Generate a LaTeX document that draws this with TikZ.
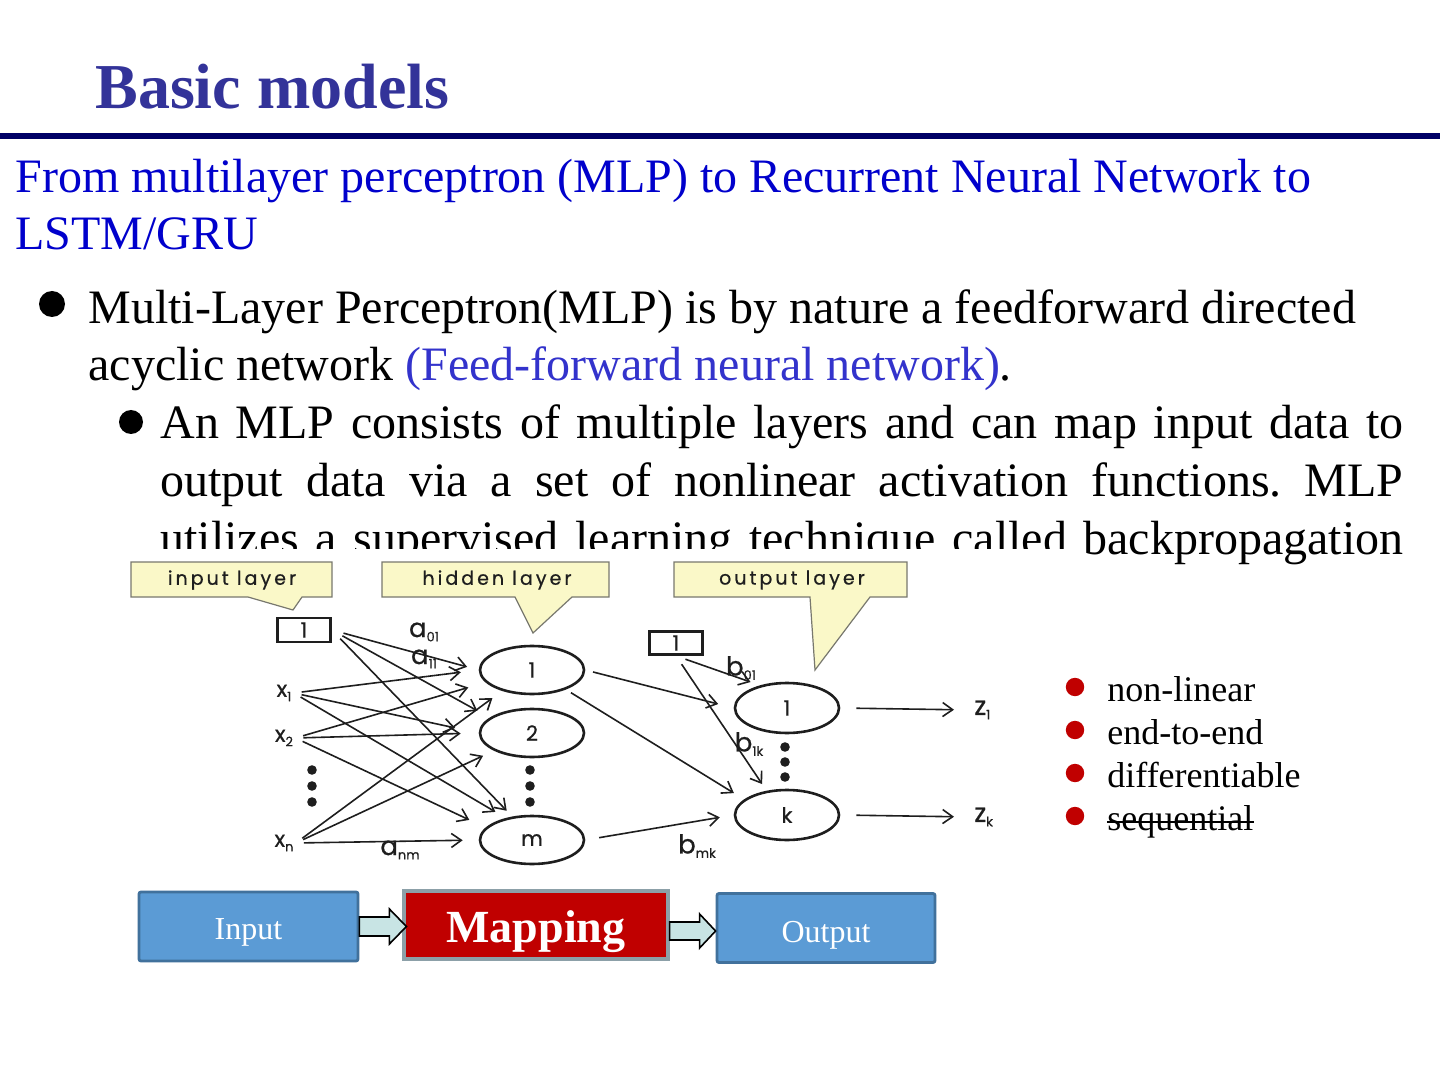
\documentclass[tikz,border=0pt]{standalone}
\usepackage{fontspec}
\setmainfont{Liberation Serif}
\newfontfamily\figfont[LetterSpace=16,FakeBold=0.6]{Poppins}
\newfontfamily\figfontn[FakeBold=0.6]{Poppins}
\usetikzlibrary{shapes.geometric,arrows.meta}
\definecolor{titleblue}{RGB}{51,51,153}
\definecolor{rulenavy}{RGB}{0,0,102}
\definecolor{subblue}{RGB}{0,0,204}
\definecolor{ffblue}{RGB}{51,51,204}
\definecolor{boxblue}{RGB}{91,155,213}
\definecolor{boxborder}{RGB}{65,113,156}
\definecolor{mapred}{RGB}{192,0,0}
\definecolor{mapborder}{RGB}{140,160,168}
\definecolor{arrowfill}{RGB}{200,228,228}
\definecolor{callfill}{RGB}{250,248,200}
\definecolor{callborder}{RGB}{120,120,110}
\definecolor{listred}{RGB}{192,0,0}
\definecolor{ink}{RGB}{30,30,30}
\newcommand\sbs[1]{\raisebox{-2.2pt}{\figfontn\fontsize{6.5}{7}\selectfont #1}}
\frenchspacing
\tikzset{
  txt/.style={anchor=base west, inner sep=0pt, font=\fontsize{24}{28}\selectfont},
  lst/.style={anchor=base west, inner sep=0pt, font=\fontsize{18}{20}\selectfont},
  calltxt/.style={inner sep=0pt, font=\figfont\fontsize{9.5}{10}\selectfont, text=ink},
  callout/.style={fill=callfill, draw=callborder, line width=0.6pt},
  lab/.style={inner sep=1pt, font=\figfontn\fontsize{11}{12}\selectfont, text=ink},
  wlab/.style={inner sep=1pt, font=\figfontn\fontsize{13}{14}\selectfont, text=ink},
  neuron/.style={ellipse, draw=ink, line width=1.3pt, minimum width=52pt, minimum height=24pt, inner sep=0pt, font=\figfontn\fontsize{10.5}{11}\selectfont, text=ink},
  biasbox/.style={rectangle, draw=ink, line width=1.4pt, minimum width=26.5pt, minimum height=12pt, inner sep=0pt, font=\figfontn\fontsize{10.5}{11}\selectfont, text=ink},
  arr/.style={-{Straight Barb[length=5pt,width=7pt]}, line width=0.8pt, draw=ink},
  dot/.style={fill=ink},
  flowbox/.style={rectangle, fill=boxblue, draw=boxborder, line width=1.4pt, rounded corners=1pt, minimum width=109pt, minimum height=34.5pt, inner sep=0pt, text=white, text depth=0pt, font=\fontsize{16}{18}\selectfont},
  blockarr/.style={fill=arrowfill, draw=black, line width=0.8pt, line join=miter},
}
\begin{document}
\begin{tikzpicture}[x=0.5pt,y=-0.5pt]
\useasboundingbox[fill=white] (0,0) rectangle (1440,1080);
% title
\node[anchor=base west, inner sep=0pt, font=\fontsize{32}{38}\selectfont\bfseries, text=titleblue] (title) at (95,109) {Basic models};
\draw[rulenavy, line width=3pt] (0,136) -- (1440,136);
% subtitle
\node[txt, text=subblue] (sub1) at (15,193) {From multilayer perceptron (MLP) to Recurrent Neural Network to};
\node[txt, text=subblue] (sub2) at (15,250) {LSTM/GRU};
% bullet 1
\fill (52,304) circle[radius=6.5pt];
\node[txt] (b1a) at (88,324) {Multi-Layer Perceptron(MLP) is by nature a feedforward directed};
\node[txt] (b1b) at (88,381) {acyclic network \textcolor{ffblue}{(Feed-forward neural network)}.};
% sub bullet
\fill (131,422) circle[radius=6pt];
\node[txt] (s1) at (160,438) {\makebox[621.5pt][s]{An MLP consists of multiple layers and can map input data to}};
\node[txt] (s2) at (160,496) {\makebox[621.5pt][s]{output data via a set of nonlinear activation functions. MLP}};
\node[txt] (s3) at (160,554) {\makebox[621.5pt][s]{utilizes a supervised learning technique called backpropagation}};
% figure background covering the cut text
\fill[white] (140,549) rectangle (1080,580);
% callouts
\draw[callout] (131,562) -- (332,562) -- (332,597) -- (302,597) -- (293,610) -- (248,597) -- (131,597) -- cycle;
\node[calltxt] (cin) at (232,580) {input layer};
\draw[callout] (382,562) -- (609,562) -- (609,597) -- (572,597) -- (533,633) -- (515,597) -- (382,597) -- cycle;
\node[calltxt] (chid) at (497,580) {hidden layer};
\draw[callout] (674,562) -- (907,562) -- (907,597) -- (870,597) -- (815,670) -- (810,597) -- (674,597) -- cycle;
\node[calltxt] (cout) at (792,580) {output layer};
% input layer
\node[biasbox] (b0) at (304,630) {1};
\node[lab] (x1) at (284,693) {x\sbs{1}};
\node[lab] (x2) at (284,738) {x\sbs{2}};
\node[lab] (xn) at (284,843) {x\sbs{n}};
\foreach \yy in {770,786,802} \fill[dot] (312,\yy) circle[radius=2.4pt];
% hidden layer
\node[neuron] (h1) at (532,670) {1};
\node[neuron] (h2) at (532,733) {2};
\node[neuron] (hm) at (532,840) {m};
\foreach \yy in {770,786,802} \fill[dot] (530,\yy) circle[radius=2.4pt];
% output layer
\node[biasbox, minimum height=11.5pt] (b1) at (676,643) {1};
\node[neuron, minimum height=25pt] (o1) at (787,708) {1};
\node[neuron, minimum height=25pt] (ok) at (787,815) {k};
\foreach \yy in {747,762,777} \fill[dot] (785,\yy) circle[radius=2.4pt];
\node[wlab, anchor=west] (z1) at (972,710) {z\sbs{1}};
\node[wlab, anchor=west] (zk) at (972,817) {z\sbs{k}};
% weight labels
\node[wlab] (a01) at (424,632) {a\sbs{01}};
\node[wlab] (a11) at (424,659) {a\sbs{11}};
\node[wlab] (anm) at (400,850) {a\sbs{nm}};
\node[wlab] (b01) at (741,668) {b\sbs{01}};
\node[wlab] (b1k) at (749,744) {b\sbs{1k}};
\node[wlab] (bmk) at (697,846) {b\sbs{mk}};
% connections input -> hidden
\draw[arr, shorten <=6pt, shorten >=6pt] (b0.east) -- (h1.west);
\draw[arr, shorten <=6pt, shorten >=7pt] (b0.east) -- (h2.160);
\draw[arr, shorten <=6pt, shorten >=4pt] (b0.east) -- (hm.130);
\draw[arr, shorten <=4pt, shorten >=9pt] (x1.east) -- (h1.west);
\draw[arr, shorten <=4pt, shorten >=12pt] (x1.east) -- (h2.west);
\draw[arr, shorten <=4pt, shorten >=6pt] (x1.east) -- (hm.140);
\draw[arr, shorten <=4pt, shorten >=9pt] (x2.east) -- (h1.195);
\draw[arr, shorten <=4pt, shorten >=9pt] (x2.east) -- (h2.west);
\draw[arr, shorten <=4pt, shorten >=9pt] (x2.east) -- (hm.165);
\draw[arr, shorten <=4pt, shorten >=6pt] (xn.east) -- (h1.215);
\draw[arr, shorten <=4pt, shorten >=6pt] (xn.east) -- (h2.205);
\draw[arr, shorten <=4pt, shorten >=8pt] (xn.east) -- (hm.west);
% hidden -> output
\draw[arr, shorten <=4pt, shorten >=8pt] (h1.east) -- (o1.west);
\draw[arr, shorten <=3pt, shorten >=6pt] (h1.-30) -- (ok.160);
\draw[arr, shorten <=7pt, shorten >=7pt] (hm.east) -- (ok.west);
\draw[arr, shorten <=5pt, shorten >=5pt] (b1.south) -- (o1.140);
\draw[arr, shorten <=5pt, shorten >=4pt] (b1.south) -- (ok.130);
\draw[arr, shorten <=8pt, shorten >=9pt] (o1.east) -- (z1.west);
\draw[arr, shorten <=8pt, shorten >=9pt] (ok.east) -- (zk.west);
% right list
\foreach \yy in {687,730,773,816} \fill[listred] (1075,\yy) circle[radius=4.6pt];
\node[lst] (l1) at (1107,701) {non-linear};
\node[lst] (l2) at (1107,744) {end-to-end};
\node[lst] (l3) at (1107,787) {differentiable};
\node[lst] (l4) at (1107,830) {sequential};
\draw[line width=0.9pt] ([yshift=4.2pt]l4.base west) -- ([yshift=4.2pt]l4.base east);
% flow
\node[flowbox, minimum width=109.5pt, text height=12.5pt] (in) at (248.5,926.5) {Input};
\node[flowbox, fill=mapred, draw=mapborder, line width=1.6pt, rounded corners=0pt, minimum width=132pt, minimum height=34pt, text height=17pt, font=\fontsize{23}{26}\selectfont\bfseries] (map) at (536,925) {Mapping};
\node[flowbox, text height=14pt] (out) at (826,928) {Output};
\draw[blockarr] (in.east) ++(0,-9.5) -- ++(30,0) -- ++(0,-8) -- ++(17,17.5) -- ++(-17,17.5) -- ++(0,-8) -- ++(-30,0) -- cycle;
\draw[blockarr] (map.east) ++(0,-3) -- ++(30,0) -- ++(0,-8) -- ++(16,17) -- ++(-16,17) -- ++(0,-8) -- ++(-30,0) -- cycle;
\end{tikzpicture}
\end{document}
